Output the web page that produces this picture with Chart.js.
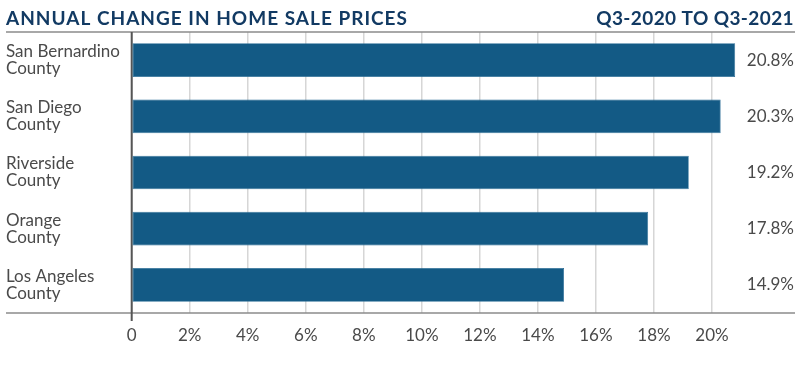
<!DOCTYPE html>
<html>
<head>
<meta charset="utf-8">
<script src="https://cdn.jsdelivr.net/npm/chart.js@4"></script>
<style>
  html, body { margin: 0; padding: 0; background: #fff; }
  #wrap { width: 800px; height: 367px; position: relative; }
</style>
</head>
<body>
<div id="wrap"><canvas id="chart" width="800" height="367"></canvas></div>
<script>
// Annual change in home sale prices, Q3-2020 to Q3-2021
const counties = [
    ['San Bernardino', 'County'],
    ['San Diego', 'County'],
    ['Riverside', 'County'],
    ['Orange', 'County'],
    ['Los Angeles', 'County']
];
const priceChange = [20.8, 20.3, 19.2, 17.8, 14.9];
const tickValues = [0, 2, 4, 6, 8, 10, 12, 14, 16, 18, 20];

const titleLeft = 'ANNUAL CHANGE IN HOME SALE PRICES';
const titleRight = 'Q3-2020 TO Q3-2021';

const FONT = 'Lato, "Open Sans", sans-serif';
const navy = '#123a63';
const barBlue = '#135a85';
const textGray = '#4a4a4a';

// Titles, frame lines, category labels and value labels
const decorations = {
    id: 'decorations',
    beforeDatasetsDraw(chart) {
        const ctx = chart.ctx;
        const area = chart.chartArea;
        const x0 = chart.scales.x.getPixelForValue(0);
        ctx.save();
        ctx.strokeStyle = '#8c8c8c';
        ctx.lineWidth = 1.5;
        ctx.beginPath();
        ctx.moveTo(6, area.top);
        ctx.lineTo(795, area.top);
        ctx.moveTo(6, area.bottom);
        ctx.lineTo(795, area.bottom);
        ctx.stroke();
        ctx.strokeStyle = '#555';
        ctx.lineWidth = 2;
        ctx.beginPath();
        ctx.moveTo(x0, area.top);
        ctx.lineTo(x0, area.bottom + 8);
        ctx.stroke();
        ctx.restore();
    },
    afterDatasetsDraw(chart) {
        const ctx = chart.ctx;
        const yScale = chart.scales.y;
        ctx.save();

        // header
        ctx.fillStyle = navy;
        ctx.font = '700 19px ' + FONT;
        ctx.textBaseline = 'alphabetic';
        ctx.textAlign = 'left';
        ctx.letterSpacing = '1px';
        ctx.fillText(titleLeft, 6, 25);
        ctx.textAlign = 'right';
        ctx.letterSpacing = '0.4px';
        ctx.fillText(titleRight, 794, 25);
        ctx.letterSpacing = '0px';

        // category labels
        ctx.fillStyle = textGray;
        ctx.font = '17px ' + FONT;
        ctx.textAlign = 'left';
        ctx.textBaseline = 'middle';
        counties.forEach((lines, i) => {
            const yc = yScale.getPixelForValue(i);
            ctx.fillText(lines[0], 6, yc - 8.5);
            ctx.fillText(lines[1], 6, yc + 8.5);
        });

        // value labels
        ctx.textAlign = 'right';
        chart.getDatasetMeta(0).data.forEach((bar, i) => {
            ctx.fillText(priceChange[i].toFixed(1) + '%', 794, bar.y);
        });
        ctx.restore();
    }
};

new Chart(document.getElementById('chart'), {
    type: 'bar',
    data: {
        labels: counties,
        datasets: [{
            data: priceChange,
            backgroundColor: barBlue,
            borderColor: '#2a6d96',
            borderWidth: 0.75,
            borderSkipped: false,
            barPercentage: 0.6,
            categoryPercentage: 1
        }]
    },
    options: {
        indexAxis: 'y',
        responsive: false,
        animation: false,
        layout: { padding: { left: 0, top: 32, right: 30, bottom: 0 } },
        plugins: {
            legend: { display: false },
            tooltip: { enabled: false }
        },
        scales: {
            y: {
                ticks: { display: false },
                grid: { display: false, drawTicks: false },
                border: { display: false },
                afterFit(scale) { scale.width = 131.7; }
            },
            x: {
                min: 0,
                max: 22,
                afterBuildTicks(scale) {
                    scale.ticks = tickValues.map(v => ({ value: v }));
                },
                afterFit(scale) { scale.height = 54; },
                ticks: {
                    color: textGray,
                    font: { family: FONT, size: 17 },
                    padding: 12,
                    callback: v => v === 0 ? '0' : v + '%'
                },
                grid: { color: '#d6d6d6', lineWidth: 1.5, drawTicks: false },
                border: { display: false }
            }
        }
    },
    plugins: [decorations]
});
</script>
</body>
</html>
